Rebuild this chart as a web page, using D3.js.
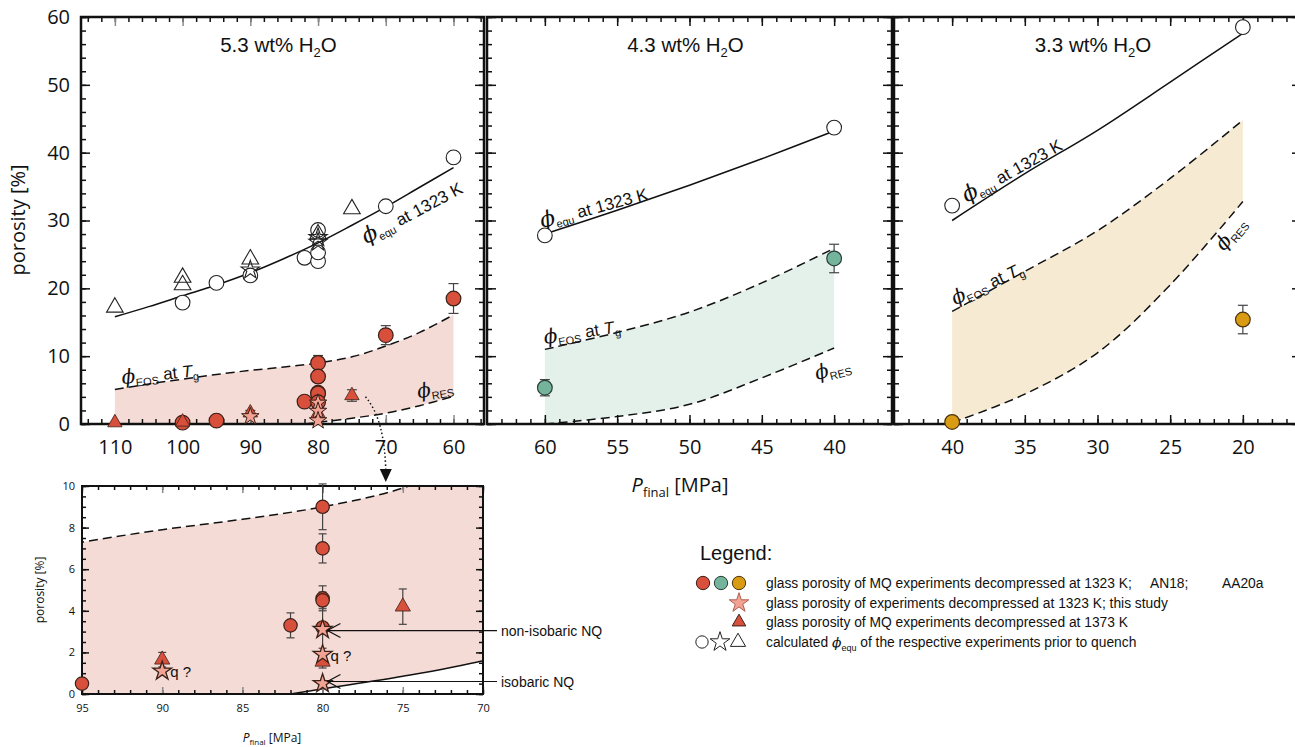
<!DOCTYPE html>
<html>
<head>
<meta charset="utf-8">
<script src="https://cdn.jsdelivr.net/npm/d3@7"></script>
<style>
body { margin: 0; background: #fff; }
svg { display: block; font-family: "Liberation Sans", Arial, sans-serif; }
</style>
</head>
<body>
<svg id="chart" width="1295" height="747"></svg>
<script>
// ---- data: [P_final MPa, porosity %] ----
// 5.3 wt% H2O
var p1Equ = [[110,15.8],[105,17.3],[100,18.9],[95,20.5],[90,22.3],[85,24.4],[80,26.7],[75,29.3],[70,32.0],[65,34.9],[60,37.8]];
var p1Eos = [[110,5.1],[105,5.9],[100,6.6],[95,7.3],[90,7.9],[85,8.4],[80,9.0],[75,9.9],[70,11.5],[65,13.5],[60,16.1]];
var p1Res = [[82,0],[80,0.25],[75,0.85],[70,1.6],[65,2.7],[60,4.1]];
var p1EquCircles = [[100,17.9],[95,20.8],[90,21.9],[82,24.5],[80,24.0],[80,25.3],[80,28.6],[70,32.1],[60,39.3]];
var p1EquTriangles = [[110,17.2],[100,20.5],[100,21.6],[90,24.3],[80,28.0],[75,31.7]];
var p1EquStars = [[90,22.7],[80,27.5],[80,26.8]];
var p1GlassCircles = [[100,0.2,0],[95,0.5,0],[82,3.3,0.6],[80,9.0,1.1],[80,7.0,0.7],[80,4.6,0.6],[80,4.5,0.4],[80,3.2,1.0],[70,13.1,1.4],[60,18.5,2.2]];
var p1GlassTriangles = [[110,0.2,0],[100,0.3,0],[90,1.65,0.35],[80,1.55,0.3],[75,4.2,0.85]];
var p1GlassStars = [[90,1.1],[80,3.1],[80,1.9],[80,0.5]];

// 4.3 wt% H2O
var p2Equ = [[60,28.0],[55,31.5],[50,35.2],[45,39.1],[40,43.2]];
var p2Eos = [[60,11.0],[55,13.5],[50,16.5],[45,20.8],[40,25.9]];
var p2Res = [[60,0],[55,1.1],[50,2.9],[45,6.8],[40,11.2]];
var p2EquCircles = [[60,27.8],[40,43.7]];
var p2GlassCircles = [[60,5.35,1.2],[40,24.4,2.1]];

// 3.3 wt% H2O
var p3Equ = [[40,30.0],[35,36.9],[30,43.3],[25,50.4],[20,57.6]];
var p3Eos = [[40,16.6],[35,22.5],[30,28.5],[25,36.2],[20,44.8]];
var p3Res = [[40,0.2],[35,4.4],[30,10.5],[25,20.5],[20,32.8]];
var p3EquCircles = [[40,32.2],[20,58.5]];
var p3GlassCircles = [[40,0.3,0],[20,15.4,2.1]];

var panelTitles = ["5.3", "4.3", "3.3"];
var yTicks = [0, 10, 20, 30, 40, 50, 60];
var insetYTicks = [0, 2, 4, 6, 8, 10];
var insetXTicks = [95, 90, 85, 80, 75, 70];
var legendRows = [
  "glass porosity of MQ experiments decompressed at 1323 K;",
  "glass porosity of experiments decompressed at 1323 K; this study",
  "glass porosity of MQ experiments decompressed at 1373 K",
  "calculated"
];
var legendRefs = ["AN18;", "AA20a"];

var RED = "#d8503c", PINK = "#f2a393", GREEN = "#74b49d", ORANGE = "#d99a14";
var DARK = "#3a2018";

var svg = d3.select("#chart");
var y = d3.scaleLinear().domain([0, 60]).range([424, 17]);

var panels = [
  { x: d3.scaleLinear().domain([115, 55.5]).range([81, 484]), major: d3.range(60, 111, 10), minor: d3.range(56, 115, 2),
    fill: "#f5dbd6", equ: p1Equ, eos: p1Eos, res: p1Res, labelY: true, majorColor: "#8a8a8a",
    equLab: [72.9, 26.5, -28], eosLab: [108.9, 5.9, -6], resLab: [65.2, 3.8, -10] },
  { x: d3.scaleLinear().domain([64, 36]).range([487, 892]), major: d3.range(40, 61, 5), minor: d3.range(37, 64, 1),
    fill: "#e4f0ea", equ: p2Equ, eos: p2Eos, res: p2Res, labelY: false, majorColor: "#111",
    equLab: [60.2, 28.9, -15], eosLab: [60.0, 11.8, -9], resLab: [41.2, 6.5, -15] },
  { x: d3.scaleLinear().domain([44, 16]).range([894, 1301]), major: d3.range(20, 41, 5), minor: d3.range(17, 44, 1),
    fill: "#f6ead2", equ: p3Equ, eos: p3Eos, res: p3Res, labelY: false, majorColor: "#111",
    equLab: [39.0, 32.6, -29], eosLab: [39.8, 17.5, -25], resLab: [21.3, 25.4, -50] }
];

function richText(g, px, py, angle, parts, anchor) {
  var t = g.append("text")
    .attr("transform", "translate(" + px + "," + py + ") rotate(" + angle + ")")
    .attr("text-anchor", anchor || "start")
    .attr("fill", "#111");
  parts.forEach(function(p) {
    var s = t.append("tspan").text(p.t).attr("font-size", p.s);
    if (p.i) s.attr("font-style", "italic");
    if (p.dy) s.attr("dy", p.dy);
    if (p.f) s.attr("font-family", p.f);
  });
  return t;
}

function phiParts(sub, rest, big) {
  var parts = [{t: "ϕ", s: big, i: true, f: "DejaVu Serif"}, {t: sub, s: 11, dy: 4}];
  return parts.concat(rest);
}

function drawAxes(g, x, yS, xMajor, xMinor, yMajor, yMinor, opts) {
  var xr = x.range(), yr = yS.range();
  var lx = Math.min(xr[0], xr[1]), rx = Math.max(xr[0], xr[1]);
  var by = yr[0], ty = yr[1];
  var ms = opts.majorLen, ns = opts.minorLen;

  function clean(sel, color) {
    sel.select(".domain").remove();
    sel.selectAll(".tick line").attr("stroke", color || "#111").attr("stroke-width", 1.5);
    sel.selectAll(".tick text").attr("fill", "#111").attr("font-size", opts.fs).attr("font-family", "'Open Sans', sans-serif");
  }
  // bottom / top
  clean(g.append("g").attr("transform", "translate(0," + by + ")")
    .call(d3.axisBottom(x).tickValues(xMinor).tickSize(-ns).tickFormat("")));
  clean(g.append("g").attr("transform", "translate(0," + by + ")")
    .call(d3.axisBottom(x).tickValues(xMajor).tickSize(-ms).tickPadding(opts.xPad).tickFormat(opts.showX ? d3.format("d") : "")), opts.majorColor);
  clean(g.append("g").attr("transform", "translate(0," + ty + ")")
    .call(d3.axisTop(x).tickValues(xMinor).tickSize(-ns).tickFormat("")));
  clean(g.append("g").attr("transform", "translate(0," + ty + ")")
    .call(d3.axisTop(x).tickValues(xMajor).tickSize(-ms).tickFormat("")), opts.majorColor);
  // left / right
  clean(g.append("g").attr("transform", "translate(" + lx + ",0)")
    .call(d3.axisLeft(yS).tickValues(yMinor).tickSize(-ns).tickFormat("")));
  clean(g.append("g").attr("transform", "translate(" + lx + ",0)")
    .call(d3.axisLeft(yS).tickValues(yMajor).tickSize(-ms).tickPadding(opts.yPad).tickFormat(opts.showY ? d3.format("d") : "")));
  clean(g.append("g").attr("transform", "translate(" + rx + ",0)")
    .call(d3.axisRight(yS).tickValues(yMinor).tickSize(-ns).tickFormat("")));
  clean(g.append("g").attr("transform", "translate(" + rx + ",0)")
    .call(d3.axisRight(yS).tickValues(yMajor).tickSize(-ms).tickFormat("")));

  g.append("rect").attr("x", lx).attr("y", ty).attr("width", rx - lx).attr("height", by - ty)
    .attr("fill", "none").attr("stroke", "#111").attr("stroke-width", opts.frame);
}

function errorBars(g, x, yS, data, cap) {
  data.filter(function(d) { return d[2] > 0; }).forEach(function(d) {
    var cx = x(d[0]);
    g.append("line").attr("x1", cx).attr("x2", cx).attr("y1", yS(d[1] - d[2])).attr("y2", yS(d[1] + d[2]))
      .attr("stroke", "#444").attr("stroke-width", 1.2);
    [d[1] - d[2], d[1] + d[2]].forEach(function(v) {
      g.append("line").attr("x1", cx - cap).attr("x2", cx + cap).attr("y1", yS(v)).attr("y2", yS(v))
        .attr("stroke", "#444").attr("stroke-width", 1.2);
    });
  });
}

function markers(g, x, yS, data, type, size, fill, stroke, sw) {
  g.selectAll(null).data(data).enter().append("path")
    .attr("d", d3.symbol().type(type).size(size))
    .attr("transform", function(d) { return "translate(" + x(d[0]) + "," + yS(d[1]) + ")"; })
    .attr("fill", fill).attr("stroke", stroke).attr("stroke-width", sw || 1.2);
}

function fillPath(line, x, yS, eos, res) {
  var top = line(eos);
  var bot = line(res.slice().reverse()).replace(/^M/, "L");
  return top + bot + "L" + x(eos[0][0]) + "," + yS(0) + "Z";
}

var defs = svg.append("defs");

panels.forEach(function(pn, i) {
  var g = svg.append("g");
  var x = pn.x;
  var line = d3.line().x(function(d) { return x(d[0]); }).y(function(d) { return y(d[1]); })
    .curve(d3.curveCatmullRom.alpha(0.5));
  var xr = x.range();

  defs.append("clipPath").attr("id", "clip" + i).append("rect")
    .attr("x", xr[0]).attr("y", y.range()[1]).attr("width", xr[1] - xr[0]).attr("height", y.range()[0] - y.range()[1]);

  var plot = g.append("g").attr("clip-path", "url(#clip" + i + ")");
  plot.append("path").attr("d", fillPath(line, x, y, pn.eos, pn.res)).attr("fill", pn.fill);
  plot.append("path").attr("d", line(pn.equ)).attr("fill", "none").attr("stroke", "#111").attr("stroke-width", 1.5);
  plot.append("path").attr("d", line(pn.eos)).attr("fill", "none").attr("stroke", "#111").attr("stroke-width", 1.5).attr("stroke-dasharray", "9,5");
  plot.append("path").attr("d", line(pn.res)).attr("fill", "none").attr("stroke", "#111").attr("stroke-width", 1.5).attr("stroke-dasharray", "9,5");

  drawAxes(g, x, y, pn.major, pn.minor, yTicks, d3.range(0, 61, 2),
    { majorLen: 9, minorLen: 5, fs: 20, xPad: 16, yPad: 11, showX: true, showY: pn.labelY, frame: 2.5, majorColor: pn.majorColor });

  // title
  var t = g.append("text").attr("x", (xr[0] + Math.min(xr[1], 1300)) / 2 - 4).attr("y", 52)
    .attr("text-anchor", "middle").attr("font-size", 20.5).attr("fill", "#111");
  t.append("tspan").text(panelTitles[i] + " wt% H");
  t.append("tspan").text("2").attr("font-size", 13).attr("dy", 5);
  t.append("tspan").text("O").attr("dy", -5);

  // curve labels
  richText(g, x(pn.equLab[0]), y(pn.equLab[1]), pn.equLab[2],
    phiParts("equ", [{t: " at 1323 K", s: 17, dy: -4}], 22));
  richText(g, x(pn.eosLab[0]), y(pn.eosLab[1]), pn.eosLab[2],
    phiParts("EOS", [{t: " at ", s: 17, dy: -4}, {t: "T", s: 17, i: true}, {t: "g", s: 11, dy: 4}], 20));
  richText(g, x(pn.resLab[0]), y(pn.resLab[1]), pn.resLab[2], phiParts("RES", [], 20));

  pn.g = g;
});

// ---- markers, panel 1 ----
(function() {
  var g = panels[0].g, x = panels[0].x;
  markers(g, x, y, p1EquCircles, d3.symbolCircle, 170, "#fff", "#222", 1.1);
  markers(g, x, y, p1EquTriangles, d3.symbolTriangle, 120, "none", "#222", 1.1);
  markers(g, x, y, p1EquStars, d3.symbolStar, 105, "none", "#222", 1.1);
  errorBars(g, x, y, p1GlassCircles, 5);
  errorBars(g, x, y, p1GlassTriangles, 5);
  markers(g, x, y, p1GlassCircles, d3.symbolCircle, 170, RED, DARK);
  markers(g, x, y, p1GlassTriangles, d3.symbolTriangle, 90, RED, DARK, 0.8);
  markers(g, x, y, p1GlassStars, d3.symbolStar, 95, PINK, DARK, 1);
})();
// panel 2
(function() {
  var g = panels[1].g, x = panels[1].x;
  markers(g, x, y, p2EquCircles, d3.symbolCircle, 170, "#fff", "#222", 1.1);
  errorBars(g, x, y, p2GlassCircles, 5);
  markers(g, x, y, p2GlassCircles, d3.symbolCircle, 170, GREEN, "#2b3d36");
})();
// panel 3
(function() {
  var g = panels[2].g, x = panels[2].x;
  markers(g, x, y, p3EquCircles, d3.symbolCircle, 170, "#fff", "#222", 1.1);
  errorBars(g, x, y, p3GlassCircles, 5);
  markers(g, x, y, p3GlassCircles, d3.symbolCircle, 170, ORANGE, "#4a3510");
})();

// axis titles
svg.append("text").attr("transform", "translate(25,220) rotate(-90)").attr("text-anchor", "middle")
  .attr("font-size", 20).attr("font-family", "'Open Sans', sans-serif").attr("fill", "#111").text("porosity [%]");
var xl = svg.append("text").attr("x", 680).attr("y", 492).attr("text-anchor", "middle")
  .attr("font-size", 20).attr("font-family", "'Open Sans', sans-serif").attr("fill", "#111");
xl.append("tspan").text("P").attr("font-style", "italic");
xl.append("tspan").text("final").attr("font-size", 13).attr("dy", 5);
xl.append("tspan").text(" [MPa]").attr("dy", -5);

// ---- inset (zoom of 5.3 wt% panel) ----
var ix = d3.scaleLinear().domain([95, 70]).range([82, 483]);
var iy = d3.scaleLinear().domain([0, 10]).range([694, 486]);
(function() {
  var g = svg.append("g");
  var line = d3.line().x(function(d) { return ix(d[0]); }).y(function(d) { return iy(d[1]); })
    .curve(d3.curveCatmullRom.alpha(0.5));
  defs.append("clipPath").attr("id", "clipInset").append("rect")
    .attr("x", 82).attr("y", 486).attr("width", 401).attr("height", 208);
  var plot = g.append("g").attr("clip-path", "url(#clipInset)");
  plot.append("path").attr("d", fillPath(line, ix, iy, p1Eos, p1Res)).attr("fill", "#f5dbd6");
  plot.append("path").attr("d", line(p1Eos)).attr("fill", "none").attr("stroke", "#111").attr("stroke-width", 1.5).attr("stroke-dasharray", "9,5");
  plot.append("path").attr("d", line(p1Res)).attr("fill", "none").attr("stroke", "#111").attr("stroke-width", 1.5);

  drawAxes(g, ix, iy, insetXTicks, d3.range(70, 96, 1), insetYTicks, d3.range(0, 10.01, 0.5),
    { majorLen: 7, minorLen: 4, fs: 11, xPad: 10, yPad: 7, showX: true, showY: true, frame: 2, majorColor: "#8a8a8a" });

  var inRange = function(d) { return d[0] <= 95 && d[0] >= 70 && d[1] <= 10; };
  var circ = p1GlassCircles.filter(inRange), tri = p1GlassTriangles.filter(inRange), st = p1GlassStars.filter(inRange);
  errorBars(g, ix, iy, circ, 4);
  errorBars(g, ix, iy, tri, 4);
  markers(g, ix, iy, circ, d3.symbolCircle, 140, RED, DARK);
  markers(g, ix, iy, tri, d3.symbolTriangle, 100, RED, DARK, 0.8);
  markers(g, ix, iy, st, d3.symbolStar, 110, PINK, DARK, 1.3);

  // annotations
  g.append("text").attr("x", ix(89.5)).attr("y", iy(0.8)).attr("font-size", 15).attr("fill", "#111").text("q ?");
  g.append("text").attr("x", ix(79.5)).attr("y", iy(1.6)).attr("font-size", 15).attr("fill", "#111").text("q ?");
  [[3.05, "non-isobaric NQ"], [0.6, "isobaric NQ"]].forEach(function(a) {
    var yy = iy(a[0]), tip = ix(79.7);
    g.append("line").attr("x1", tip).attr("x2", 497).attr("y1", yy).attr("y2", yy).attr("stroke", "#111").attr("stroke-width", 1.2);
    g.append("path").attr("d", "M" + (tip + 13) + "," + (yy - 7) + "L" + tip + "," + yy + "L" + (tip + 13) + "," + (yy + 7))
      .attr("fill", "none").attr("stroke", "#111").attr("stroke-width", 1.2);
    g.append("text").attr("x", 501).attr("y", yy + 5).attr("font-size", 14).attr("fill", "#111").text(a[1]);
  });

  g.append("text").attr("transform", "translate(44,590) rotate(-90)").attr("text-anchor", "middle")
    .attr("font-size", 12).attr("font-family", "'Open Sans', sans-serif").attr("fill", "#111").text("porosity [%]");
  var xl2 = g.append("text").attr("x", 272).attr("y", 742).attr("text-anchor", "middle")
    .attr("font-size", 12).attr("font-family", "'Open Sans', sans-serif").attr("fill", "#111");
  xl2.append("tspan").text("P").attr("font-style", "italic");
  xl2.append("tspan").text("final").attr("font-size", 8).attr("dy", 3);
  xl2.append("tspan").text(" [MPa]").attr("dy", -3);
})();

// dotted arrow from the main panel down to the inset
(function() {
  var x = panels[0].x;
  var sx = x(73), sy = y(4.0), ex = x(70), ey = 472;
  svg.append("path").attr("d", "M" + sx + "," + sy + "Q" + (ex - 1) + "," + (sy + 22) + " " + ex + "," + ey)
    .attr("fill", "none").attr("stroke", "#111").attr("stroke-width", 1.5).attr("stroke-dasharray", "1.5,2.5");
  svg.append("path").attr("d", "M" + (ex - 6) + "," + (ey - 3) + "L" + (ex + 6) + "," + (ey - 3) + "L" + ex + "," + (ey + 10) + "Z")
    .attr("fill", "#111");
})();

// ---- legend ----
(function() {
  var g = svg.append("g");
  g.append("text").attr("x", 700).attr("y", 560).attr("font-size", 20).attr("fill", "#111").text("Legend:");
  var rowY = [583, 603, 622, 642];
  var sym = function(px, py, type, size, fill, stroke) {
    g.append("path").attr("d", d3.symbol().type(type).size(size)()).attr("transform", "translate(" + px + "," + py + ")")
      .attr("fill", fill).attr("stroke", stroke).attr("stroke-width", 1);
  };
  sym(703, rowY[0], d3.symbolCircle, 140, RED, DARK);
  sym(721, rowY[0], d3.symbolCircle, 140, GREEN, "#2b3d36");
  sym(739, rowY[0], d3.symbolCircle, 140, ORANGE, "#4a3510");
  sym(739, rowY[1], d3.symbolStar, 120, PINK, "#b0604f");
  sym(739, rowY[2], d3.symbolTriangle, 80, RED, DARK);
  sym(702, rowY[3], d3.symbolCircle, 120, "#fff", "#222");
  sym(720, rowY[3], d3.symbolStar, 120, "#fff", "#222");
  sym(738, rowY[3], d3.symbolTriangle, 100, "#fff", "#222");
  legendRows.forEach(function(r, i) {
    var t = g.append("text").attr("x", 766).attr("y", rowY[i] + 5).attr("font-size", 13.8).attr("fill", "#111").text(r);
    if (i === 0) {
      t.append("tspan").attr("x", 1150).text(legendRefs[0]);
      t.append("tspan").attr("x", 1222).text(legendRefs[1]);
    }
    if (i === 3) {
      t.append("tspan").text(" ");
      t.append("tspan").text("ϕ").attr("font-style", "italic").attr("font-family", "DejaVu Serif");
      t.append("tspan").text("equ").attr("font-size", 9).attr("dy", 4);
      t.append("tspan").text(" of the respective experiments prior to quench").attr("dy", -4);
    }
  });
})();
</script>
</body>
</html>
